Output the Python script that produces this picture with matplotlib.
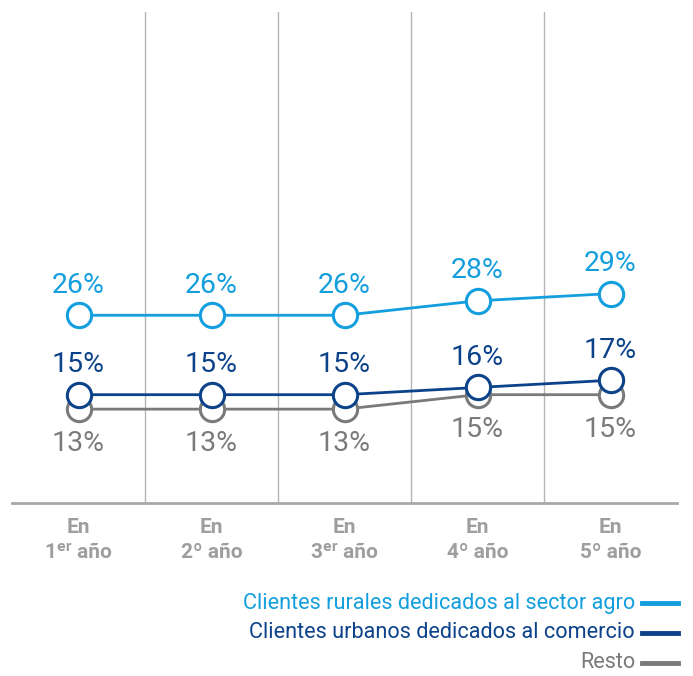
import matplotlib
matplotlib.use("Agg")
import matplotlib.pyplot as plt

categories = ["En\n1ᵉʳ año", "En\n2º año", "En\n3ᵉʳ año", "En\n4º año", "En\n5º año"]
series_names = ["Clientes rurales dedicados al sector agro",
                "Clientes urbanos dedicados al comercio",
                "Resto"]
rurales = [26, 26, 26, 28, 29]
urbanos = [15, 15, 15, 16, 17]
resto = [13, 13, 13, 15, 15]

colors = ["#139EDE", "#0C4289", "#7A7A7A"]
FONT = ["Roboto", "DejaVu Sans"]

W, H = 693, 676
fig = plt.figure(figsize=(W / 100, H / 100), dpi=100)
ax = fig.add_axes([12 / W, 1 - 503 / H, (677 - 12) / W, (503 - 12) / H])

x = list(range(len(categories)))
ax.set_xlim(-0.5, len(categories) - 0.5)
ax.set_ylim(0, 68)

for b in [0.5, 1.5, 2.5, 3.5]:
    ax.axvline(b, color="#B5B5B5", lw=1.0, zorder=0)

for s in ["top", "left", "right"]:
    ax.spines[s].set_visible(False)
ax.spines["bottom"].set_color("#A8A8A8")
ax.spines["bottom"].set_linewidth(2)
ax.set_yticks([])
ax.set_xticks(x)
ax.set_xticklabels(categories, family=FONT, fontsize=15, color="#9E9E9E",
                   fontweight="bold", linespacing=1.4)
ax.tick_params(axis="x", length=0, pad=11)

for vals, c, below in [(resto, colors[2], True), (urbanos, colors[1], False), (rurales, colors[0], False)]:
    ax.plot(x, vals, color=c, lw=2, marker="o", ms=17.5, mfc="white", mec=c, mew=2.2, zorder=3)
    for xi, v in zip(x, vals):
        if below:
            ax.annotate(f"{v}%", (xi, v), xytext=(0, -15), textcoords="offset points",
                        ha="center", va="top", fontsize=20.5, color=c, family=FONT)
        else:
            ax.annotate(f"{v}%", (xi, v), xytext=(0, 12), textcoords="offset points",
                        ha="center", va="bottom", fontsize=20.5, color=c, family=FONT)

leg_y = [603, 633, 663]
for name, c, yy in zip(series_names, colors, leg_y):
    fig.text(635 / W, 1 - yy / H, name, ha="right", va="center", fontsize=15.6,
             color=c, family=FONT)
    fig.add_artist(plt.Line2D([642 / W, 678 / W], [1 - yy / H, 1 - yy / H],
                              color=c, lw=3.5, transform=fig.transFigure))

fig.savefig("out.png", dpi=100)
